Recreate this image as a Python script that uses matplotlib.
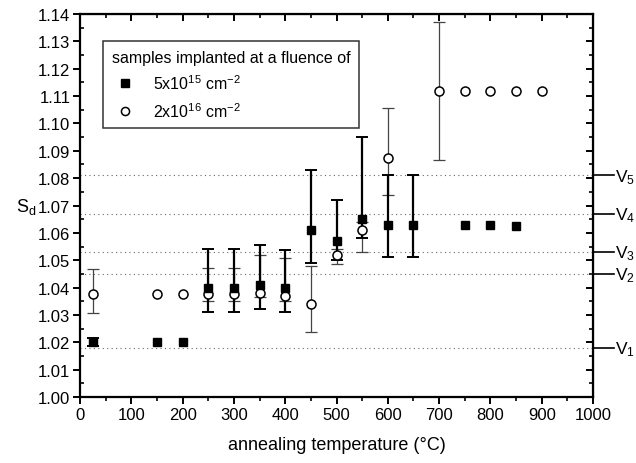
import matplotlib
matplotlib.use("Agg")
import matplotlib.pyplot as plt
import numpy as np

plt.rcParams["font.family"] = ["Liberation Sans", "DejaVu Sans"]
plt.rcParams["mathtext.fontset"] = "custom"
plt.rcParams["mathtext.rm"] = "Liberation Sans"
plt.rcParams["mathtext.it"] = "Liberation Sans:italic"

# 5x10^15 cm^-2 samples (filled squares)
temp_a = [25, 150, 200, 250, 300, 350, 400, 450, 500, 550, 600, 650, 750, 800, 850]
sd_a = [1.020, 1.020, 1.020, 1.040, 1.040, 1.041, 1.040, 1.061, 1.057, 1.065,
        1.063, 1.063, 1.063, 1.063, 1.0625]
lo_a = [1.0185, None, None, 1.031, 1.031, 1.032, 1.031, 1.049, 1.050, 1.058,
        1.051, 1.051, None, None, None]
hi_a = [1.0215, None, None, 1.054, 1.054, 1.0556, 1.0536, 1.083, 1.072, 1.095,
        1.081, 1.081, None, None, None]

# 2x10^16 cm^-2 samples (open circles)
temp_b = [25, 150, 200, 250, 300, 350, 400, 450, 500, 550, 600, 700, 750, 800, 850, 900]
sd_b = [1.0375, 1.0375, 1.0375, 1.0375, 1.0375, 1.038, 1.037, 1.034, 1.052, 1.061,
        1.0875, 1.112, 1.112, 1.112, 1.112, 1.112]
lo_b = [1.0306, None, None, 1.035, 1.035, 1.0367, 1.035, 1.0236, 1.0487, 1.053,
        1.074, 1.0867, None, None, None, None]
hi_b = [1.0468, None, None, 1.047, 1.047, 1.052, 1.0507, 1.0478, 1.054, 1.064,
        1.1055, 1.1372, None, None, None, None]

# vacancy cluster levels
v_names = ["V$_1$", "V$_2$", "V$_3$", "V$_4$", "V$_5$"]
v_levels = [1.018, 1.045, 1.053, 1.067, 1.081]


def yerr(s, lo, hi):
    s = np.array(s, float)
    lo = np.array([np.nan if v is None else v for v in lo], float)
    hi = np.array([np.nan if v is None else v for v in hi], float)
    return np.vstack([s - lo, hi - s])


fig = plt.figure(figsize=(6.36, 4.64), dpi=100)
ax = fig.add_axes([0.1258, 0.1422, 0.8066, 0.8255])

for lvl in v_levels:
    ax.axhline(lvl, color="#666666", lw=0.8, ls=(0, (1, 3)), zorder=1)

ax.errorbar(temp_b, sd_b, yerr=yerr(sd_b, lo_b, hi_b), fmt="none",
            ecolor="#444444", elinewidth=0.9, capsize=4, capthick=0.9, zorder=2)
ax.errorbar(temp_a, sd_a, yerr=yerr(sd_a, lo_a, hi_a), fmt="none",
            ecolor="black", elinewidth=1.6, capsize=4, capthick=1.4, zorder=3)
ax.plot(temp_b, sd_b, "o", ms=6.5, mfc="white", mec="black", mew=1.1,
        ls="none", zorder=4, label="2x10$^{16}$ cm$^{-2}$")
ax.plot(temp_a, sd_a, "s", ms=6, mfc="black", mec="black",
        ls="none", zorder=5, label="5x10$^{15}$ cm$^{-2}$")

ax.set_xlim(0, 1000)
ax.set_ylim(1.00, 1.14)
ax.set_xticks(np.arange(0, 1001, 100))
ax.set_xticks(np.arange(50, 1000, 100), minor=True)
ax.set_yticks(np.arange(1.00, 1.1401, 0.01))
ax.set_yticks(np.arange(1.005, 1.14, 0.01), minor=True)
ax.yaxis.set_major_formatter(matplotlib.ticker.FormatStrFormatter("%.2f"))

for sp in ax.spines.values():
    sp.set_linewidth(1.6)
ax.tick_params(which="major", direction="out", length=5, width=1.4,
               labelsize=12, pad=2)
ax.tick_params(which="minor", direction="out", length=3, width=1.2)
ax.tick_params(axis="y", which="minor", direction="in")

# inward ticks on the top and right frame
top = ax.secondary_xaxis("top")
top.set_xticks(np.arange(0, 1001, 100))
top.set_xticks(np.arange(50, 1000, 100), minor=True)
top.tick_params(which="major", direction="in", length=5, width=1.4, labeltop=False)
top.tick_params(which="minor", direction="in", length=3, width=1.2)
right = ax.secondary_yaxis("right")
right.set_yticks(np.arange(1.00, 1.1401, 0.01))
right.set_yticks(np.arange(1.005, 1.14, 0.01), minor=True)
right.tick_params(which="major", direction="in", length=5, width=1.4, labelright=False)
right.tick_params(which="minor", direction="in", length=3, width=1.2)

ax.set_xlabel("annealing temperature (°C)", fontsize=13, labelpad=10)
ax.set_ylabel("S$_\\mathrm{d}$", fontsize=13, rotation=0, va="center", ha="center")
ax.yaxis.set_label_coords(-0.105, 0.5)

for name, lvl in zip(v_names, v_levels):
    ax.plot([1.0, 1.04], [lvl, lvl], color="black", lw=1.2,
            transform=ax.get_yaxis_transform(), clip_on=False)
    ax.text(1.043, lvl - 0.0003, name, transform=ax.get_yaxis_transform(),
            fontsize=12.5, va="center", ha="left")

handles, labels = ax.get_legend_handles_labels()
leg = ax.legend(handles[::-1], labels[::-1], title="samples implanted at a fluence of",
                loc="upper left", bbox_to_anchor=(0.045, 0.93), borderaxespad=0,
                fontsize=11.5, title_fontsize=11.5, frameon=True, fancybox=False,
                edgecolor="black", alignment="left", handletextpad=1.0,
                labelspacing=0.55, borderpad=0.55, handlelength=1.6,
                markerscale=0.9)
leg.get_frame().set_linewidth(1.1)

fig.savefig("out.png", dpi=100)
